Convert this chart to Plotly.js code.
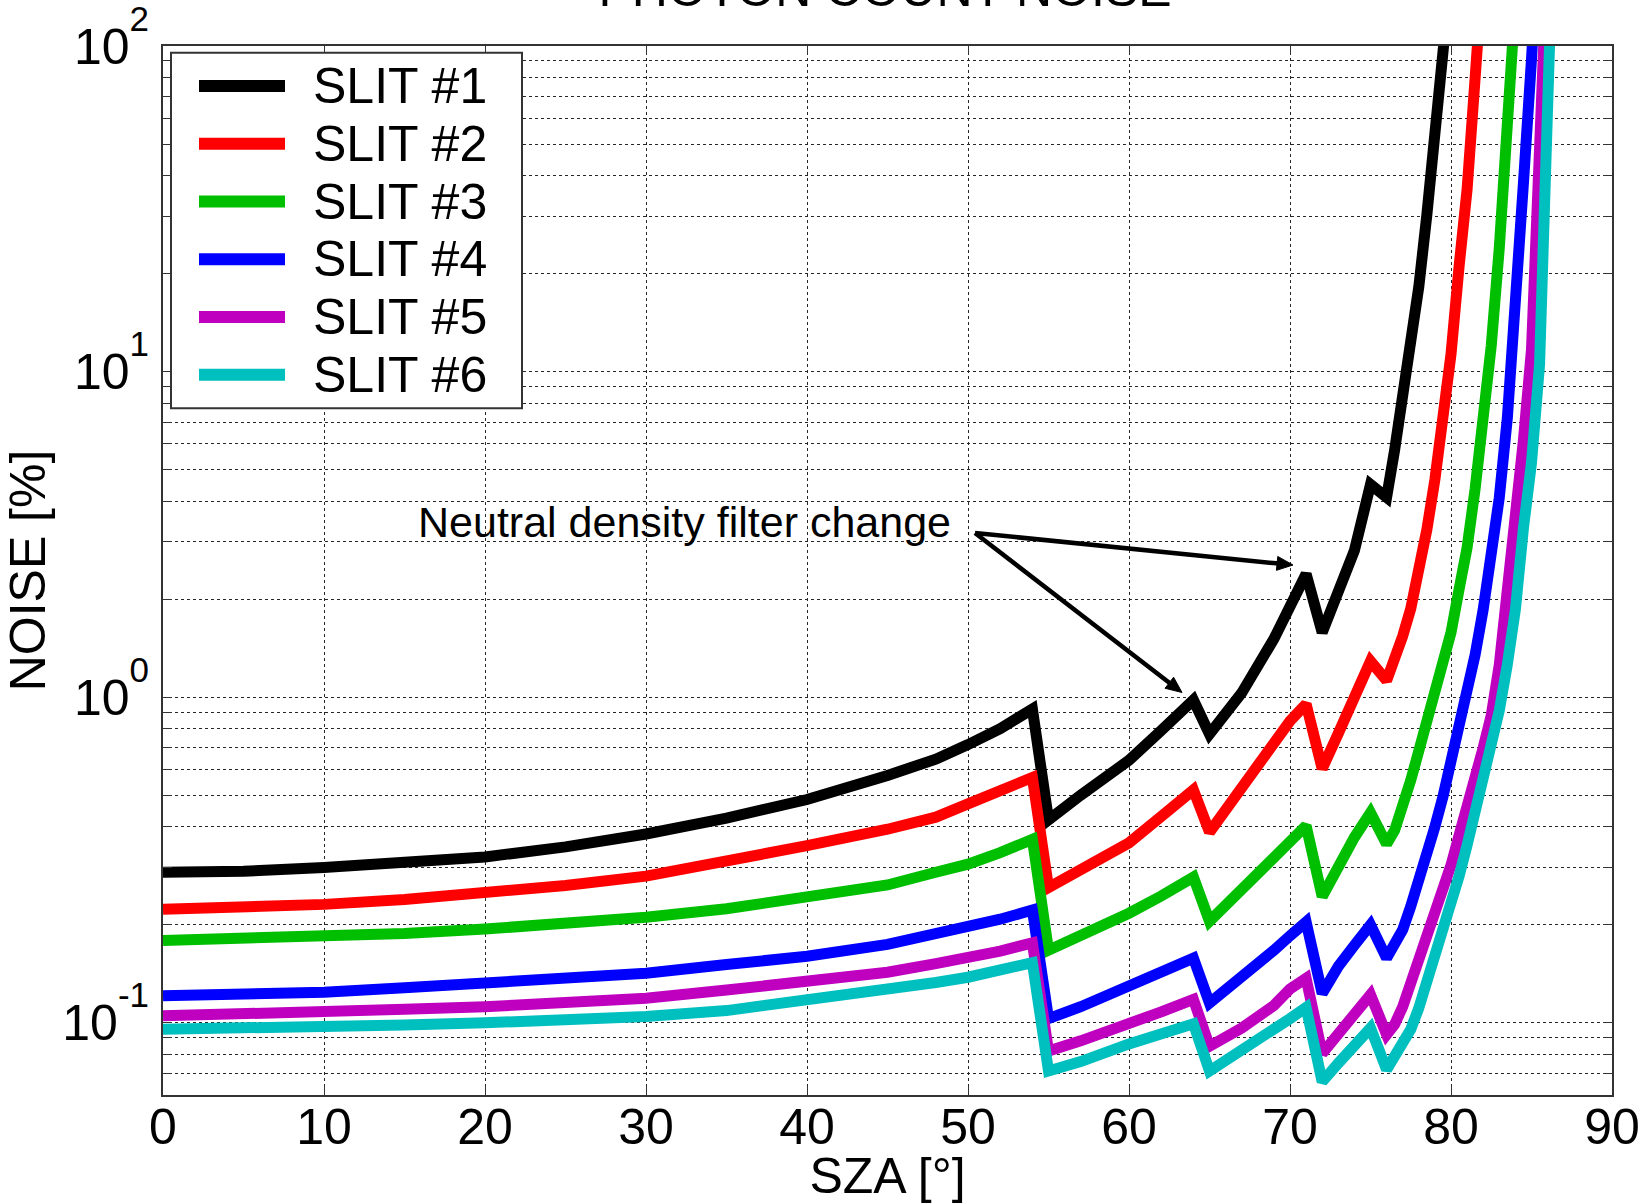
<!DOCTYPE html>
<html>
<head>
<meta charset="utf-8">
<script src="https://cdn.plot.ly/plotly-3.0.1.min.js"></script>
<style>
html,body{margin:0;padding:0;background:#ffffff;}
#chart{width:1647px;height:1204px;}
</style>
</head>
<body>
<div id="chart"></div>
<script>
// ---------------- DATA ----------------
const sza = [0,5,10,15,20,25,30,35,40,45,48,50,52,54,
             55,57,60,62,64,
             65,67,69,70,71,
             72,73,74,75,
             76,76.5,77,77.5,78,78.5,79,79.5,80,80.5,81,81.5,82,82.5,83,83.5,84,84.5,85,85.5,86,86.5,87];

const slit1 = [0.29,0.292,0.30,0.31,0.323,0.347,0.38,0.425,0.485,0.575,0.645,0.715,0.80,0.92,
               0.42,0.50,0.64,0.79,0.98,
               0.77,1.03,1.51,1.92,2.39,
               1.58,2.08,2.82,4.5,
               4.11,5.75,8.3,12.2,18.2,30.3,55.8,97.7,170,null,null,null,null,null,null,null,null,null,null,null,null,null,null];

const slit2 = [0.223,0.225,0.231,0.239,0.249,0.264,0.282,0.312,0.35,0.393,0.428,0.47,0.515,0.567,
               0.26,0.295,0.357,0.43,0.519,
               0.385,0.53,0.736,0.845,0.953,
               0.603,0.774,1.006,1.29,
               1.125,1.29,1.54,1.87,2.41,3.27,4.66,6.8,11.3,21,36.3,80,180,null,null,null,null,null,null,null,null,null,null];

const slit3 = [0.179,0.181,0.184,0.188,0.194,0.202,0.211,0.224,0.242,0.265,0.29,0.307,0.333,0.366,
               0.167,0.185,0.217,0.245,0.28,
               0.205,0.255,0.319,0.357,0.403,
               0.244,0.304,0.371,0.442,
               0.354,0.39,0.457,0.556,0.684,0.84,1.02,1.26,1.58,2.14,2.88,4.37,6.9,12,24,53.7,138,null,null,null,null,null,null];

const slit4 = [0.121,0.122,0.124,0.128,0.132,0.137,0.142,0.151,0.16,0.174,0.187,0.197,0.208,0.222,
               0.103,0.112,0.13,0.143,0.158,
               0.115,0.137,0.167,0.185,0.204,
               0.123,0.149,0.173,0.2,
               0.158,0.174,0.193,0.228,0.272,0.327,0.4,0.495,0.63,0.794,1.035,1.35,1.86,2.75,4.1,7.2,15.1,38,91,250,null,null,null];

const slit5 = [0.105,0.106,0.108,0.11,0.112,0.115,0.119,0.126,0.133,0.143,0.152,0.158,0.166,0.176,
               0.0819,0.088,0.0988,0.108,0.118,
               0.0847,0.0963,0.113,0.127,0.137,
               0.0805,0.0917,0.105,0.122,
               0.092,0.0989,0.112,0.132,0.158,0.188,0.221,0.26,0.305,0.376,0.452,0.569,0.70,0.88,1.26,2.04,3.39,6.17,11.7,47.9,200,null,null];

const slit6 = [0.0955,0.096,0.0968,0.0985,0.1,0.1015,0.1045,0.109,0.117,0.126,0.133,0.138,0.145,0.153,
               0.0711,0.076,0.0861,0.092,0.0993,
               0.0711,0.0819,0.095,0.103,0.1114,
               0.0659,0.0751,0.0851,0.0963,
               0.0718,0.0785,0.0861,0.0955,0.111,0.133,0.158,0.19,0.231,0.282,0.351,0.437,0.55,0.71,0.91,1.26,1.86,3.31,5.25,10.5,52,400,null];

const seriesNames  = ['SLIT #1','SLIT #2','SLIT #3','SLIT #4','SLIT #5','SLIT #6'];
const seriesValues = [slit1, slit2, slit3, slit4, slit5, slit6];
const seriesColors = ['#000000','#ff0000','#00bf00','#0000ff','#bf00bf','#00bfbf'];

const xTickVals = [0,10,20,30,40,50,60,70,80,90];
const yDecadeVals   = [0.1, 1, 10, 100];
const yDecadeExps   = ['-1','0','1','2'];
const yMinorVals = [0.06,0.07,0.08,0.09,
                    0.2,0.3,0.4,0.5,0.6,0.7,0.8,0.9,
                    2,3,4,5,6,7,8,9,
                    20,30,40,50,60,70,80,90];

const titleText  = 'PHOTON COUNT NOISE';
const xTitleText = 'SZA [°]';
const yTitleText = 'NOISE [%]';
const noteText   = 'Neutral density filter change';

// ---------------- LAYOUT ----------------
const W = 1647, H = 1204;
const M = {l:163, r:35, t:46, b:109};
const PW = W - M.l - M.r, PH = H - M.t - M.b;
const px2x = px => (px - M.l) / PW;
const py2y = py => (H - M.b - py) / PH;
const FONT = 'Liberation Sans, Arial, Helvetica, sans-serif';

const yTickText = yDecadeExps.map(e =>
  '10<sup style="font-size:31px;baseline-shift:12px">' + e + '</sup>');

const traces = seriesValues.map((vals, i) => ({
  type: 'scatter',
  mode: 'lines',
  name: seriesNames[i],
  x: sza,
  y: vals,
  connectgaps: false,
  line: {color: seriesColors[i], width: 11},
  hoverinfo: 'skip',
  showlegend: false
}));

// custom legend (box, sample lines, labels)
const legBox = {x0:171, x1:522, y0:52.7, y1:408.3};
const legRow0 = 86, legStep = 57.75;
const shapes = [{
  type:'rect', xref:'paper', yref:'paper', layer:'above',
  x0:px2x(legBox.x0), x1:px2x(legBox.x1), y0:py2y(legBox.y1), y1:py2y(legBox.y0),
  line:{color:'#333333', width:2}, fillcolor:'#ffffff'
}];
const annotations = [];
seriesNames.forEach((n, i) => {
  const yy = legRow0 + i * legStep;
  shapes.push({
    type:'line', xref:'paper', yref:'paper', layer:'above',
    x0:px2x(199), x1:px2x(285), y0:py2y(yy), y1:py2y(yy),
    line:{color:seriesColors[i], width:12}
  });
  annotations.push({
    xref:'paper', yref:'paper', x:px2x(311), y:py2y(yy),
    xanchor:'left', yanchor:'middle', showarrow:false,
    text:n, font:{family:FONT, size:50, color:'#000'}
  });
});

// note text
annotations.push({
  xref:'paper', yref:'paper', x:px2x(416), y:py2y(521.5),
  xanchor:'left', yanchor:'middle', showarrow:false,
  text:noteText, font:{family:FONT, size:43, color:'#000'}
});

// arrows drawn as shapes (shaft + filled head), pixel geometry -> paper
const tail = [975, 533];
const heads = [[1293, 565], [1182, 692.5]];
const headLen = 16, headHalf = 7;
heads.forEach(h => {
  const dx = h[0] - tail[0], dy = h[1] - tail[1];
  const L = Math.hypot(dx, dy), ux = dx / L, uy = dy / L;
  const bx = h[0] - ux * headLen, by = h[1] - uy * headLen;
  const nx = -uy, ny = ux;
  shapes.push({
    type:'line', xref:'paper', yref:'paper', layer:'above',
    x0:px2x(tail[0]), y0:py2y(tail[1]), x1:px2x(bx + ux*2), y1:py2y(by + uy*2),
    line:{color:'#000', width:4.5}
  });
  const p = (x, y) => px2x(x).toFixed(6) + ',' + py2y(y).toFixed(6);
  shapes.push({
    type:'path', xref:'paper', yref:'paper', layer:'above',
    path:'M' + p(h[0], h[1]) + ' L' + p(bx + nx*headHalf, by + ny*headHalf) +
         ' L' + p(bx - nx*headHalf, by - ny*headHalf) + ' Z',
    fillcolor:'#000', line:{color:'#000', width:1}
  });
});

const gridStyle = {gridcolor:'#262626', gridwidth:1, griddash:'3px,3px'};
const axisCommon = Object.assign({
  showline:true, linecolor:'#333333', linewidth:2, mirror:'ticks',
  ticks:'inside', ticklen:9, tickwidth:1, tickcolor:'#333333',
  showgrid:true, zeroline:false, automargin:false,
  ticklabeloverflow:'allow',
  tickfont:{family:FONT, size:50, color:'#000'}
}, gridStyle);

const layout = {
  width:W, height:H,
  margin:M,
  paper_bgcolor:'#ffffff', plot_bgcolor:'#ffffff',
  font:{family:FONT, color:'#000'},
  showlegend:false,
  title:{text:titleText, font:{family:FONT, size:50, color:'#000'},
         xref:'container', x:885/W, xanchor:'center',
         yref:'container', y:1 - 6/H, yanchor:'bottom'},
  xaxis:Object.assign({}, axisCommon, {
    type:'linear', range:[0, 90], tickmode:'array', tickvals:xTickVals,
    ticklabelstandoff:-13,
    title:{text:xTitleText, font:{family:FONT, size:50, color:'#000'}, standoff:27}
  }),
  yaxis:Object.assign({}, axisCommon, {
    type:'log', range:[Math.log10(0.06), 2.0000001], tickmode:'array',
    tickvals:yDecadeVals, ticktext:yTickText,
    ticklabelstandoff:2,
    minor:Object.assign({tickmode:'array', tickvals:yMinorVals, ticks:'inside',
                         ticklen:9, tickwidth:1, tickcolor:'#333333', showgrid:true}, gridStyle),
    title:{text:yTitleText, font:{family:FONT, size:50, color:'#000'}, standoff:12}
  }),
  shapes:shapes,
  annotations:annotations
};

Plotly.newPlot('chart', traces, layout, {displayModeBar:false, staticPlot:true});
</script>
</body>
</html>
